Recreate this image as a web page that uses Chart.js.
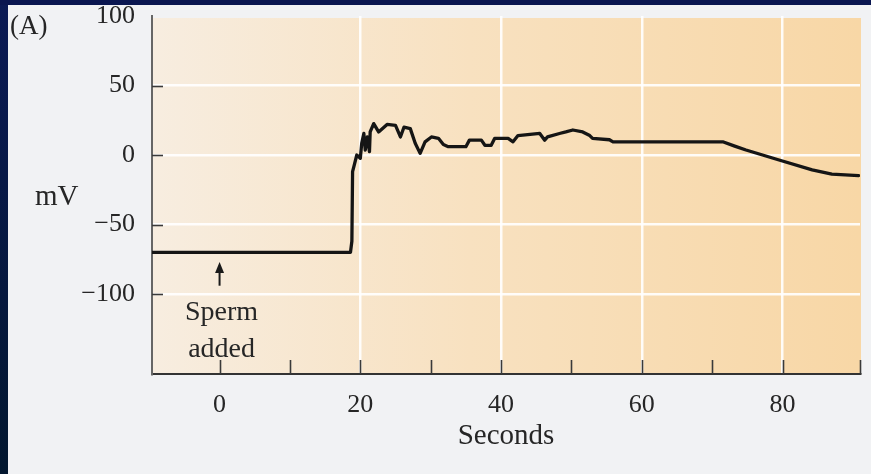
<!DOCTYPE html>
<html>
<head>
<meta charset="utf-8">
<script src="https://cdn.jsdelivr.net/npm/chart.js@4.4.0/dist/chart.umd.min.js"></script>
<style>
  html, body { margin: 0; padding: 0; background: #f1f2f4; }
  #wrap { width: 871px; height: 474px; }
</style>
</head>
<body>
<div id="wrap"><canvas id="c" width="871" height="474"></canvas></div>
<script>
// ---- data ----
const timeSec = [-9.6, 18.6, 18.8, 18.9, 19.2, 19.5, 20.0, 20.2, 20.5, 20.7, 21.0, 21.3, 21.4, 21.9, 22.6, 23.8, 25.0, 25.7, 26.2, 27.1, 27.8, 28.5, 29.2, 30.1, 31.1, 31.8, 32.5, 35.0, 35.5, 37.2, 37.7, 38.6, 39.1, 41.0, 41.7, 42.4, 45.5, 46.2, 46.6, 48.3, 49.2, 50.2, 51.6, 52.6, 53.0, 55.4, 55.9, 71.5, 73.2, 74.8, 79.5, 84.2, 87.0, 90.8];
const membraneMV = [-70, -70, -62, -12, -6, 0, -2.4, 8.4, 15.5, 3.6, 13, 2.4, 16.6, 22.6, 16.6, 22, 21.4, 13, 20, 19, 8.4, 1.2, 9.5, 13, 12, 7.5, 6, 6, 10.7, 10.7, 7, 7, 12, 12, 9.5, 14, 15.5, 10.7, 13, 15.5, 16.6, 18, 16.6, 14, 12, 11, 9.5, 9.5, 6.4, 3.6, -3.6, -10.7, -13.8, -14.8];

const xTickValues = [0, 10, 20, 30, 40, 50, 60, 70, 80];
const xLabelValues = [0, 20, 40, 60, 80];
const xGridValues = [20, 40, 60, 80];
const yTickValues = [100, 50, 0, -50, -100];
const yTickLabels = ['100', '50', '0', '\u221250', '\u2212100'];
const yMarkValues = [50, 0, -50, -100];
const yGridValues = [50, 0, -50, -100];
const xRange = [-9.6, 91];
const yRange = [-157.5, 100];

const spermTime = 0;
const arrowTipMV = -77;
const arrowTailMV = -94;
const annotationLines = ['Sperm', 'added'];
const annotationLineMV = [-118.7, -145.3];

const SERIF = '"Liberation Serif", "DejaVu Serif", serif';
const TEXT = '#262626';

const points = timeSec.map((t, i) => ({ x: t, y: membraneMV[i] }));

const decor = {
  id: 'decor',
  beforeDraw(chart) {
    const { ctx, chartArea: a, width, height } = chart;
    ctx.save();
    ctx.fillStyle = '#f1f2f4';
    ctx.fillRect(0, 0, width, height);
    const lg = ctx.createLinearGradient(0, 0, 0, height);
    lg.addColorStop(0, '#0b1a55');
    lg.addColorStop(1, '#03172f');
    ctx.fillStyle = lg;
    ctx.fillRect(0, 0, 8, height);
    ctx.fillStyle = '#0a1650';
    ctx.fillRect(0, 0, width, 5);
    const g = ctx.createLinearGradient(a.left, 0, a.right, 0);
    g.addColorStop(0, '#f7ede0');
    g.addColorStop(0.45, '#f8e1c0');
    g.addColorStop(1, '#f8d7a6');
    ctx.fillStyle = g;
    ctx.fillRect(a.left, a.top + 2, a.right - a.left + 1, a.bottom - a.top - 2);
    ctx.restore();
  },
  afterDatasetsDraw(chart) {
    const { ctx, chartArea: a, scales: { x, y } } = chart;
    ctx.save();
    ctx.strokeStyle = '#3a3a3a';
    ctx.lineWidth = 1.6;
    xTickValues.concat([x.max]).forEach(v => {
      const px = Math.round(x.getPixelForValue(v)) + 0.5;
      ctx.beginPath();
      ctx.moveTo(px, a.bottom);
      ctx.lineTo(px, a.bottom - 14);
      ctx.stroke();
    });
    yMarkValues.forEach(v => {
      const py = Math.round(y.getPixelForValue(v)) + 0.5;
      ctx.beginPath();
      ctx.moveTo(a.left, py);
      ctx.lineTo(a.left + 11, py);
      ctx.stroke();
    });
    const ax = x.getPixelForValue(spermTime);
    const tipY = y.getPixelForValue(arrowTipMV);
    const tailY = y.getPixelForValue(arrowTailMV);
    ctx.strokeStyle = '#1a1a1a';
    ctx.fillStyle = '#1a1a1a';
    ctx.lineWidth = 2;
    ctx.beginPath();
    ctx.moveTo(ax, tipY + 8);
    ctx.lineTo(ax, tailY);
    ctx.stroke();
    ctx.beginPath();
    ctx.moveTo(ax, tipY);
    ctx.lineTo(ax - 4.5, tipY + 11);
    ctx.lineTo(ax + 4.5, tipY + 11);
    ctx.closePath();
    ctx.fill();
    ctx.font = '28px ' + SERIF;
    ctx.fillStyle = TEXT;
    ctx.textAlign = 'center';
    ctx.textBaseline = 'alphabetic';
    annotationLines.forEach((s, i) => {
      ctx.fillText(s, ax + 2, y.getPixelForValue(annotationLineMV[i]));
    });
    ctx.restore();
  },
  afterDraw(chart) {
    const { ctx } = chart;
    ctx.save();
    ctx.fillStyle = TEXT;
    ctx.textBaseline = 'alphabetic';
    ctx.textAlign = 'left';
    ctx.font = '27px ' + SERIF;
    ctx.fillText('(A)', 10, 34);
    ctx.font = '29px ' + SERIF;
    ctx.fillText('mV', 35, 205);
    ctx.restore();
  }
};

new Chart(document.getElementById('c'), {
  type: 'line',
  data: {
    datasets: [{
      data: points,
      borderColor: '#151515',
      borderWidth: 3.3,
      pointRadius: 0,
      tension: 0,
      borderJoinStyle: 'round',
      borderCapStyle: 'round',
      fill: false
    }]
  },
  options: {
    responsive: false,
    animation: false,
    devicePixelRatio: 1,
    layout: { padding: { top: 16, right: 11, left: 0, bottom: 0 } },
    plugins: { legend: { display: false }, tooltip: { enabled: false } },
    scales: {
      x: {
        type: 'linear',
        min: xRange[0],
        max: xRange[1],
        afterBuildTicks: s => { s.ticks = xTickValues.map(v => ({ value: v })); },
        afterFit: s => { s.height = 100; s.paddingLeft = 0; s.paddingRight = 0; },
        ticks: {
          autoSkip: false,
          maxRotation: 0,
          padding: 16,
          color: TEXT,
          font: { family: SERIF, size: 26 },
          callback: v => (xLabelValues.includes(v) ? String(v) : '')
        },
        grid: {
          drawTicks: false,
          lineWidth: 2.5,
          color: c => (c.tick && xGridValues.includes(c.tick.value)) ? 'rgba(255,255,255,0.9)' : 'rgba(0,0,0,0)'
        },
        border: { display: true, color: '#333', width: 2 },
        title: {
          display: true,
          text: 'Seconds',
          color: TEXT,
          font: { family: SERIF, size: 29 },
          padding: { top: 0, bottom: 20 }
        }
      },
      y: {
        type: 'linear',
        min: yRange[0],
        max: yRange[1],
        afterBuildTicks: s => { s.ticks = yTickValues.map(v => ({ value: v })); },
        afterFit: s => { s.width = 152; s.paddingTop = 0; s.paddingBottom = 0; },
        ticks: {
          autoSkip: false,
          padding: 17,
          color: TEXT,
          font: { family: SERIF, size: 26 },
          callback: v => yTickLabels[yTickValues.indexOf(v)]
        },
        grid: {
          drawTicks: false,
          lineWidth: 2.5,
          color: c => (c.tick && yGridValues.includes(c.tick.value)) ? 'rgba(255,255,255,0.9)' : 'rgba(0,0,0,0)'
        },
        border: { display: true, color: '#666', width: 2 }
      }
    }
  },
  plugins: [decor]
});
</script>
</body>
</html>
